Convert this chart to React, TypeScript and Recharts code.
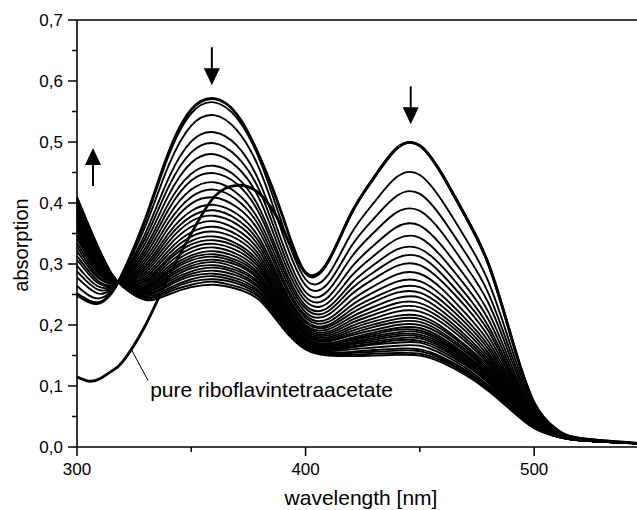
import { Line, LineChart, ReferenceDot, ReferenceLine, XAxis, YAxis } from 'recharts'

// wavelengths in nm, one column per value of every spectrum below
const wavelengths = [300, 305, 310, 315, 320, 330, 340, 350, 360, 370, 380, 390, 400, 410, 420, 430, 440, 450, 460, 470, 480, 490, 500, 510, 520, 545]

// first spectrum of the series (thick line)
const startSpectrum = [0.249, 0.238, 0.236, 0.252, 0.285, 0.375, 0.482, 0.553, 0.571, 0.545, 0.475, 0.378, 0.285, 0.305, 0.383, 0.442, 0.490, 0.494, 0.445, 0.378, 0.300, 0.180, 0.072, 0.028, 0.014, 0.006]

// last spectrum of the series (bottom of the black band)
const endSpectrum = [0.410, 0.365, 0.322, 0.285, 0.263, 0.241, 0.250, 0.262, 0.266, 0.259, 0.240, 0.195, 0.160, 0.150, 0.149, 0.150, 0.151, 0.150, 0.138, 0.118, 0.092, 0.060, 0.031, 0.017, 0.011, 0.006]

const riboflavin = [0.115, 0.108, 0.112, 0.124, 0.140, 0.200, 0.279, 0.350, 0.410, 0.429, 0.415, 0.358, 0.286, 0.305, 0.383, 0.442, 0.490, 0.494, 0.445, 0.378, 0.300, 0.180, 0.072, 0.028, 0.014, 0.006]

const midSpectra = [
  [0.252, 0.241, 0.238, 0.253, 0.285, 0.372, 0.477, 0.547, 0.565, 0.539, 0.470, 0.363, 0.275, 0.283, 0.350, 0.401, 0.443, 0.446, 0.402, 0.342, 0.271, 0.163, 0.066, 0.026, 0.014, 0.006],
  [0.264, 0.249, 0.244, 0.255, 0.283, 0.363, 0.461, 0.527, 0.544, 0.519, 0.454, 0.349, 0.265, 0.269, 0.329, 0.375, 0.412, 0.415, 0.374, 0.318, 0.252, 0.152, 0.063, 0.025, 0.013, 0.006],
  [0.278, 0.261, 0.251, 0.258, 0.281, 0.351, 0.440, 0.501, 0.516, 0.494, 0.433, 0.333, 0.254, 0.257, 0.311, 0.352, 0.385, 0.387, 0.350, 0.297, 0.236, 0.143, 0.059, 0.025, 0.013, 0.006],
  [0.288, 0.269, 0.257, 0.260, 0.280, 0.343, 0.426, 0.483, 0.498, 0.476, 0.419, 0.321, 0.246, 0.246, 0.294, 0.331, 0.361, 0.363, 0.328, 0.279, 0.221, 0.134, 0.056, 0.024, 0.013, 0.006],
  [0.297, 0.276, 0.262, 0.262, 0.278, 0.335, 0.412, 0.466, 0.480, 0.459, 0.405, 0.310, 0.239, 0.237, 0.280, 0.314, 0.341, 0.343, 0.310, 0.264, 0.209, 0.127, 0.054, 0.023, 0.013, 0.006],
  [0.307, 0.284, 0.267, 0.264, 0.277, 0.327, 0.399, 0.448, 0.461, 0.442, 0.390, 0.300, 0.232, 0.229, 0.268, 0.299, 0.324, 0.325, 0.295, 0.251, 0.198, 0.121, 0.052, 0.023, 0.013, 0.006],
  [0.313, 0.289, 0.270, 0.265, 0.276, 0.321, 0.389, 0.437, 0.449, 0.431, 0.381, 0.293, 0.227, 0.223, 0.259, 0.287, 0.310, 0.312, 0.282, 0.240, 0.190, 0.116, 0.050, 0.022, 0.012, 0.006],
  [0.321, 0.295, 0.275, 0.267, 0.275, 0.315, 0.378, 0.422, 0.434, 0.416, 0.369, 0.285, 0.221, 0.217, 0.250, 0.276, 0.297, 0.298, 0.270, 0.230, 0.181, 0.112, 0.049, 0.022, 0.012, 0.006],
  [0.328, 0.300, 0.278, 0.268, 0.274, 0.309, 0.368, 0.410, 0.422, 0.405, 0.360, 0.277, 0.216, 0.210, 0.240, 0.264, 0.283, 0.284, 0.258, 0.219, 0.173, 0.107, 0.047, 0.021, 0.012, 0.006],
  [0.334, 0.305, 0.282, 0.270, 0.273, 0.304, 0.359, 0.399, 0.409, 0.393, 0.351, 0.271, 0.212, 0.205, 0.232, 0.254, 0.271, 0.272, 0.247, 0.210, 0.166, 0.103, 0.046, 0.021, 0.012, 0.006],
  [0.341, 0.310, 0.285, 0.271, 0.273, 0.299, 0.350, 0.387, 0.397, 0.382, 0.341, 0.264, 0.207, 0.200, 0.225, 0.245, 0.261, 0.262, 0.238, 0.203, 0.160, 0.099, 0.044, 0.021, 0.012, 0.006],
  [0.346, 0.314, 0.288, 0.272, 0.272, 0.295, 0.343, 0.378, 0.388, 0.373, 0.334, 0.259, 0.204, 0.197, 0.219, 0.238, 0.253, 0.253, 0.230, 0.196, 0.154, 0.096, 0.043, 0.020, 0.012, 0.006],
  [0.350, 0.318, 0.290, 0.273, 0.271, 0.291, 0.336, 0.370, 0.379, 0.365, 0.327, 0.254, 0.200, 0.193, 0.213, 0.230, 0.244, 0.245, 0.222, 0.190, 0.149, 0.093, 0.042, 0.020, 0.012, 0.006],
  [0.355, 0.322, 0.293, 0.274, 0.271, 0.287, 0.329, 0.361, 0.370, 0.356, 0.320, 0.249, 0.197, 0.189, 0.208, 0.223, 0.236, 0.236, 0.215, 0.183, 0.144, 0.090, 0.041, 0.020, 0.012, 0.006],
  [0.360, 0.326, 0.295, 0.275, 0.270, 0.283, 0.322, 0.352, 0.361, 0.348, 0.313, 0.244, 0.194, 0.186, 0.203, 0.217, 0.229, 0.229, 0.209, 0.178, 0.140, 0.088, 0.040, 0.020, 0.012, 0.006],
  [0.364, 0.329, 0.298, 0.276, 0.269, 0.279, 0.316, 0.345, 0.353, 0.341, 0.307, 0.240, 0.191, 0.183, 0.198, 0.211, 0.222, 0.222, 0.203, 0.173, 0.136, 0.085, 0.040, 0.019, 0.012, 0.006],
  [0.368, 0.332, 0.300, 0.276, 0.269, 0.276, 0.310, 0.338, 0.345, 0.333, 0.301, 0.236, 0.188, 0.180, 0.194, 0.206, 0.215, 0.215, 0.196, 0.167, 0.132, 0.083, 0.039, 0.019, 0.012, 0.006],
  [0.371, 0.335, 0.301, 0.277, 0.268, 0.273, 0.306, 0.332, 0.339, 0.328, 0.296, 0.233, 0.186, 0.177, 0.190, 0.201, 0.210, 0.210, 0.192, 0.164, 0.128, 0.081, 0.038, 0.019, 0.012, 0.006],
  [0.375, 0.337, 0.303, 0.278, 0.268, 0.271, 0.301, 0.326, 0.333, 0.322, 0.292, 0.230, 0.184, 0.175, 0.186, 0.197, 0.205, 0.205, 0.187, 0.160, 0.125, 0.079, 0.038, 0.019, 0.011, 0.006],
  [0.378, 0.340, 0.305, 0.278, 0.267, 0.268, 0.296, 0.320, 0.327, 0.316, 0.287, 0.227, 0.182, 0.173, 0.183, 0.192, 0.200, 0.200, 0.183, 0.156, 0.122, 0.077, 0.037, 0.019, 0.011, 0.006],
  [0.381, 0.342, 0.307, 0.279, 0.267, 0.265, 0.292, 0.314, 0.321, 0.311, 0.282, 0.223, 0.179, 0.170, 0.179, 0.188, 0.195, 0.195, 0.178, 0.152, 0.119, 0.076, 0.036, 0.018, 0.011, 0.006],
  [0.383, 0.344, 0.308, 0.280, 0.267, 0.263, 0.288, 0.310, 0.316, 0.306, 0.279, 0.221, 0.178, 0.169, 0.177, 0.185, 0.192, 0.191, 0.175, 0.149, 0.117, 0.074, 0.036, 0.018, 0.011, 0.006],
  [0.386, 0.346, 0.309, 0.280, 0.266, 0.261, 0.285, 0.306, 0.312, 0.302, 0.275, 0.219, 0.176, 0.167, 0.175, 0.182, 0.188, 0.188, 0.172, 0.147, 0.115, 0.073, 0.036, 0.018, 0.011, 0.006],
  [0.388, 0.348, 0.310, 0.281, 0.266, 0.259, 0.281, 0.301, 0.307, 0.298, 0.272, 0.217, 0.175, 0.166, 0.172, 0.179, 0.185, 0.184, 0.169, 0.144, 0.113, 0.072, 0.035, 0.018, 0.011, 0.006],
  [0.391, 0.350, 0.312, 0.281, 0.266, 0.257, 0.278, 0.297, 0.303, 0.293, 0.268, 0.214, 0.173, 0.164, 0.170, 0.176, 0.182, 0.181, 0.166, 0.141, 0.111, 0.071, 0.035, 0.018, 0.011, 0.006],
  [0.393, 0.352, 0.313, 0.282, 0.265, 0.255, 0.274, 0.293, 0.298, 0.289, 0.265, 0.212, 0.172, 0.162, 0.168, 0.173, 0.178, 0.178, 0.163, 0.139, 0.109, 0.070, 0.034, 0.018, 0.011, 0.006],
  [0.396, 0.354, 0.314, 0.282, 0.265, 0.253, 0.271, 0.288, 0.294, 0.285, 0.261, 0.210, 0.170, 0.161, 0.165, 0.170, 0.175, 0.174, 0.160, 0.136, 0.107, 0.068, 0.034, 0.018, 0.011, 0.006],
  [0.398, 0.356, 0.316, 0.283, 0.265, 0.251, 0.267, 0.284, 0.289, 0.281, 0.258, 0.207, 0.168, 0.159, 0.163, 0.168, 0.171, 0.171, 0.156, 0.134, 0.105, 0.067, 0.034, 0.018, 0.011, 0.006],
  [0.400, 0.357, 0.317, 0.283, 0.264, 0.249, 0.264, 0.280, 0.284, 0.276, 0.254, 0.205, 0.167, 0.157, 0.160, 0.163, 0.166, 0.166, 0.152, 0.130, 0.101, 0.065, 0.033, 0.017, 0.011, 0.006],
  [0.403, 0.359, 0.318, 0.284, 0.264, 0.247, 0.260, 0.275, 0.280, 0.272, 0.251, 0.202, 0.165, 0.155, 0.156, 0.159, 0.161, 0.160, 0.147, 0.126, 0.098, 0.064, 0.032, 0.017, 0.011, 0.006],
  [0.405, 0.361, 0.319, 0.284, 0.264, 0.245, 0.257, 0.271, 0.275, 0.268, 0.247, 0.200, 0.163, 0.153, 0.154, 0.156, 0.158, 0.157, 0.144, 0.123, 0.096, 0.062, 0.032, 0.017, 0.011, 0.006],
  [0.408, 0.363, 0.321, 0.285, 0.263, 0.243, 0.254, 0.266, 0.271, 0.263, 0.244, 0.197, 0.162, 0.152, 0.151, 0.153, 0.154, 0.153, 0.141, 0.121, 0.094, 0.061, 0.031, 0.017, 0.011, 0.006],
]

const xTicks = [300, 350, 400, 450, 500]
const yTicks = [0, 0.05, 0.1, 0.15, 0.2, 0.25, 0.3, 0.35, 0.4, 0.45, 0.5, 0.55, 0.6, 0.65, 0.7]

// arrows: wavelength, absorption at the arrow tip, direction
const arrowNm = [307, 359, 446]
const arrowTip = [0.49, 0.593, 0.529]
const arrowDir = ['up', 'down', 'down']

const FONT = '"Liberation Sans", Arial, Helvetica, sans-serif'

const allSpectra = [startSpectrum, ...midSpectra, endSpectrum]

const data = wavelengths.map((w, i) => {
  const row: Record<string, number> = { w, ribo: riboflavin[i] }
  allSpectra.forEach((s, k) => {
    row['s' + k] = s[i]
  })
  return row
})

function comma(v: number): string {
  return v.toFixed(1).replace('.', ',')
}

function XTick({ x, y, payload }: any) {
  const major = payload.value % 100 === 0
  return (
    <g>
      <line x1={x} x2={x} y1={y} y2={y + (major ? 9 : 5)} stroke="#000" strokeWidth={1.5} />
      {major && (
        <text x={x} y={y + 28} textAnchor="middle" fontSize={17} fontFamily={FONT} fill="#000">
          {payload.value}
        </text>
      )}
    </g>
  )
}

function YTick({ x, y, payload }: any) {
  const major = Math.round(payload.value * 100) % 10 === 0
  return (
    <g>
      <line x1={x - (major ? 9 : 5)} x2={x} y1={y} y2={y} stroke="#000" strokeWidth={1.5} />
      {major && (
        <text x={x - 14} y={y + 6} textAnchor="end" fontSize={17} fontFamily={FONT} fill="#000">
          {comma(payload.value)}
        </text>
      )}
    </g>
  )
}

function Arrow({ cx, cy, dir }: any) {
  const s = dir === 'up' ? -1 : 1
  return (
    <g>
      <line x1={cx} x2={cx} y1={cy - s * 38} y2={cy - s * 14} stroke="#000" strokeWidth={2} />
      <polygon points={`${cx - 8},${cy - s * 17} ${cx + 8},${cy - s * 17} ${cx},${cy}`} fill="#000" />
    </g>
  )
}

export default function App() {
  return (
    <div style={{ position: 'absolute', left: 0, top: 0, background: '#fff' }}>
      <LineChart width={637} height={510} data={data} margin={{ top: 20, right: 0, bottom: 0, left: 0 }}>
        <XAxis
          dataKey="w"
          type="number"
          domain={[300, 545]}
          ticks={xTicks}
          interval={0}
          height={63}
          tickSize={0}
          tickMargin={0}
          tickLine={false}
          tick={<XTick />}
          axisLine={{ stroke: '#000', strokeWidth: 1.6 }}
          label={() => (
            <text x={361} y={505} textAnchor="middle" fontSize={21} fontFamily={FONT} fill="#000">
              wavelength [nm]
            </text>
          )}
        />
        <YAxis
          type="number"
          domain={[0, 0.7]}
          ticks={yTicks}
          interval={0}
          width={77}
          tickSize={0}
          tickMargin={0}
          tickLine={false}
          tick={<YTick />}
          axisLine={{ stroke: '#000', strokeWidth: 1.6 }}
          label={() => (
            <text transform="translate(28, 245) rotate(-90)" textAnchor="middle" fontSize={20} fontFamily={FONT} fill="#000">
              absorption
            </text>
          )}
        />
        <ReferenceLine y={0.7} stroke="#000" strokeWidth={1.6} />
        {allSpectra.map((_, k) => (
          <Line
            key={k}
            dataKey={'s' + k}
            type="natural"
            stroke="#000"
            strokeWidth={k === 0 ? 2.8 : 1.9}
            dot={false}
            isAnimationActive={false}
          />
        ))}
        <Line dataKey="ribo" type="natural" stroke="#000" strokeWidth={2.8} dot={false} isAnimationActive={false} />
        <ReferenceLine
          segment={[
            { x: 323.9, y: 0.159 },
            { x: 331.1, y: 0.109 },
          ]}
          stroke="#000"
          strokeWidth={1}
        />
        <ReferenceDot
          x={332}
          y={0.082}
          shape={(p: any) => (
            <text x={p.cx} y={p.cy} fontSize={21} fontFamily={FONT} fill="#000">
              pure riboflavintetraacetate
            </text>
          )}
        />
        {arrowNm.map((nm, i) => (
          <ReferenceDot key={'a' + i} x={nm} y={arrowTip[i]} shape={(p: any) => <Arrow cx={p.cx} cy={p.cy} dir={arrowDir[i]} />} />
        ))}
      </LineChart>
    </div>
  )
}
